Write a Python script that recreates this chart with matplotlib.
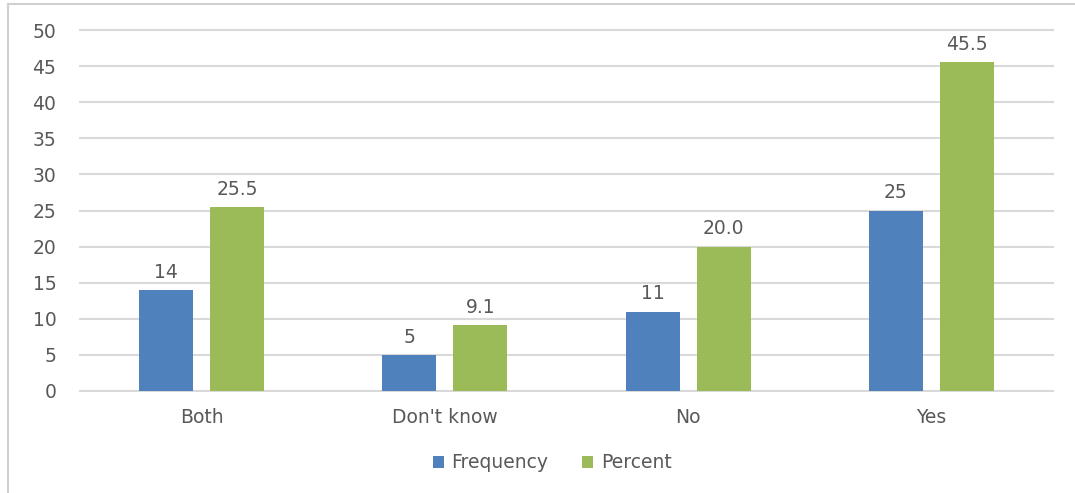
import matplotlib
matplotlib.use("Agg")
import matplotlib.pyplot as plt
import numpy as np
from matplotlib.lines import Line2D

categories = ["Both", "Don't know", "No", "Yes"]
frequency = [14, 5, 11, 25]
percent = [25.5, 9.1, 20.0, 45.5]
freq_labels = ["14", "5", "11", "25"]
pct_labels = ["25.5", "9.1", "20.0", "45.5"]
yticks = [0, 5, 10, 15, 20, 25, 30, 35, 40, 45, 50]

blue = "#4f81bd"
green = "#9bbb59"
text_gray = "#595959"
grid_gray = "#d9d9d9"
fs = 13.5

plt.rcParams["font.family"] = ["DejaVu Sans"]

fig = plt.figure(figsize=(10.75, 4.93), dpi=100)
W, H = 1075, 493
ax = fig.add_axes([80 / W, 1 - 391 / H, (1053 - 80) / W, (391 - 30) / H])

x = np.arange(len(categories))
bw = 0.222
off = 0.146
b1 = ax.bar(x - off, frequency, bw, color=blue, label="Frequency", zorder=3)
b2 = ax.bar(x + off, percent, bw, color=green, label="Percent", zorder=3)

for bars, labels in ((b1, freq_labels), (b2, pct_labels)):
    for rect, lab in zip(bars, labels):
        ax.annotate(lab, (rect.get_x() + rect.get_width() / 2, rect.get_height()),
                    xytext=(0, 6), textcoords="offset points", ha="center", va="bottom",
                    fontsize=fs, color=text_gray)

ax.set_xlim(-0.5, len(categories) - 0.5)
ax.set_ylim(0, 50)
ax.set_yticks(yticks)
ax.set_xticks(x)
ax.set_xticklabels(categories)
ax.yaxis.grid(True, color=grid_gray, linewidth=1.5, zorder=0)
for gl in ax.yaxis.get_gridlines():
    gl.set_clip_on(False)
ax.set_axisbelow(True)
for s in ax.spines.values():
    s.set_visible(False)
ax.tick_params(axis="both", length=0, colors=text_gray, labelsize=fs)
ax.tick_params(axis="x", pad=12)
ax.tick_params(axis="y", pad=17)

leg = fig.legend(handles=[b1, b2], labels=["Frequency", "Percent"], loc="center",
                 bbox_to_anchor=(552 / W, 1 - 463 / H), ncol=2, frameon=False,
                 fontsize=fs, handlelength=0.6, handleheight=0.6,
                 handletextpad=0.4, columnspacing=1.8)
for t in leg.get_texts():
    t.set_color(text_gray)

# outer frame (top and left edges)
fig.add_artist(Line2D([8 / W, 1.0], [1 - 4 / H, 1 - 4 / H], color="#d0d0d0", linewidth=1.5,
                      transform=fig.transFigure))
fig.add_artist(Line2D([8 / W, 8 / W], [0.0, 1 - 4 / H], color="#d0d0d0", linewidth=1.5,
                      transform=fig.transFigure))

fig.savefig("out.png", dpi=100)
